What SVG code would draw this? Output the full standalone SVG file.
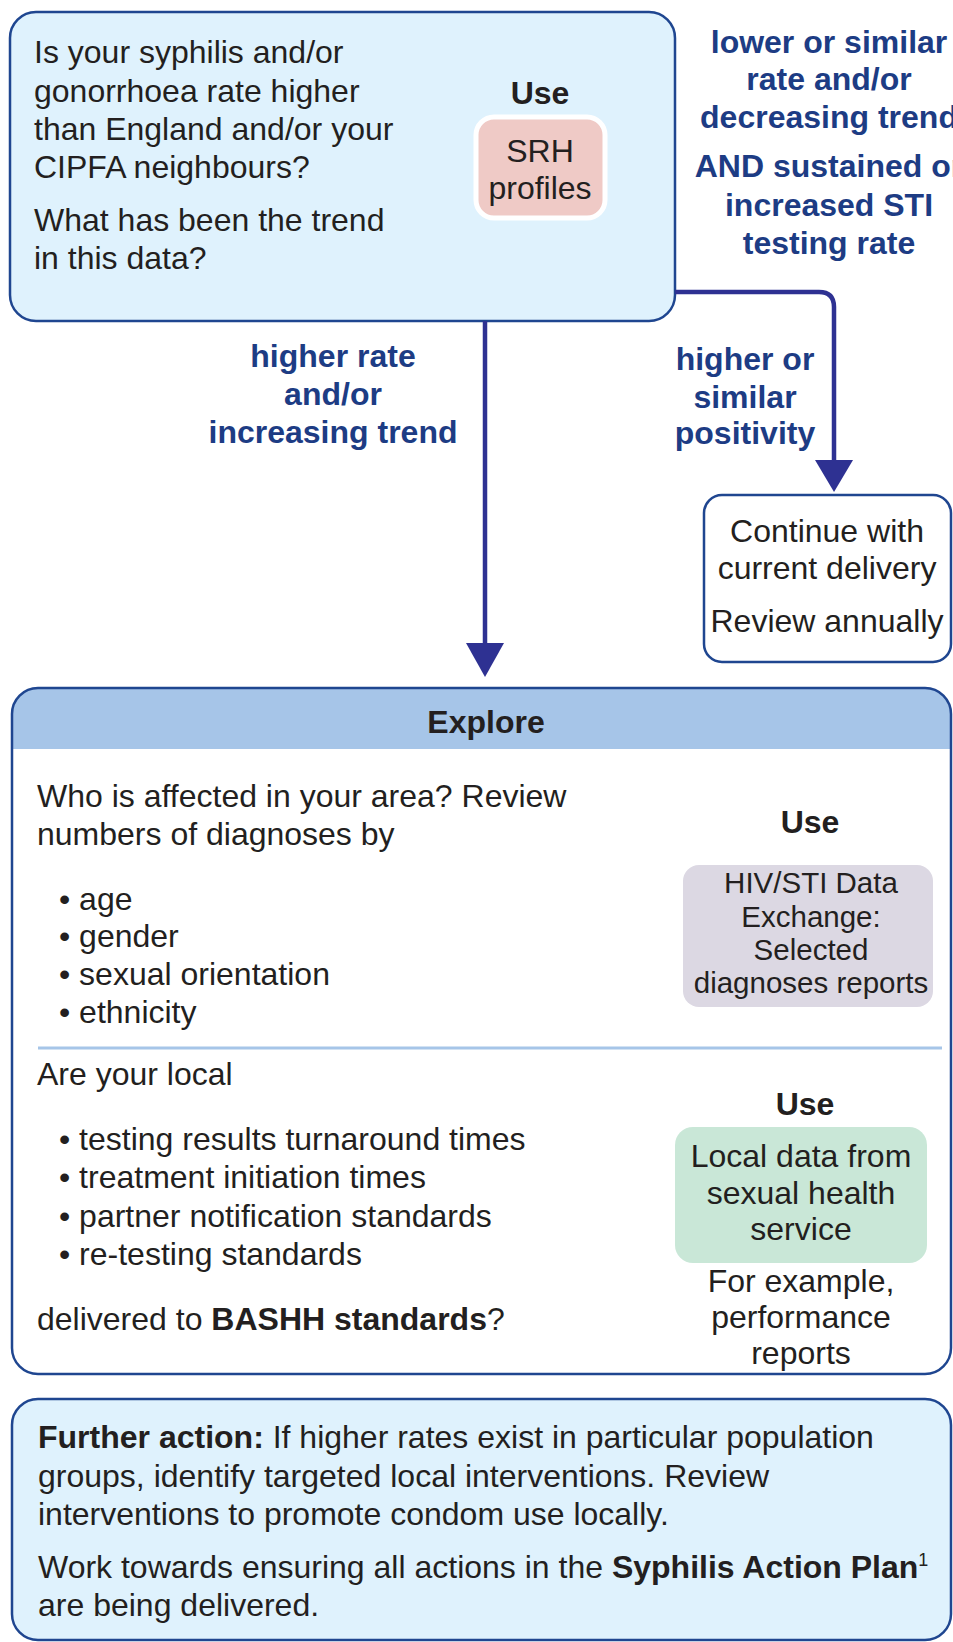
<svg xmlns="http://www.w3.org/2000/svg" width="953" height="1642" viewBox="0 0 953 1642">
<defs>
<style>
text{font-family:"Liberation Sans",Arial,sans-serif;font-size:32px;fill:#231f20}
.b{font-weight:bold}
.lbl{font-weight:bold;fill:#1d3c84;text-anchor:middle}
.c{text-anchor:middle}
.box{stroke:#1f4690;stroke-width:2.5}
.con{fill:none;stroke:#2e3192;stroke-width:4.5}
.ah{fill:#2e3192}
</style>
</defs>
<rect width="953" height="1642" fill="#ffffff"/>

<g id="question">
<rect class="box" x="10" y="12" width="665" height="309" rx="26" fill="#dff2fd"/>
<text x="34" y="63">Is your syphilis and/or</text>
<text x="34" y="101.5">gonorrhoea rate higher</text>
<text x="34" y="140">than England and/or your</text>
<text x="34" y="178">CIPFA neighbours?</text>
<text x="34" y="231">What has been the trend</text>
<text x="34" y="269">in this data?</text>
<text class="b c" x="540" y="104">Use</text>
<rect x="476" y="117" width="129" height="101" rx="18" fill="#efcac6" stroke="#ffffff" stroke-width="5"/>
<text class="c" x="540" y="162">SRH</text>
<text class="c" x="540" y="199">profiles</text>
</g>

<g id="connectors">
<path class="con" d="M675,292 H819 Q834,292 834,307 V462"/>
<polygon class="ah" points="815,460 853,460 834,492"/>
<path class="con" d="M485,321 V645"/>
<polygon class="ah" points="466,643 504,643 485,677"/>
<text class="lbl" x="829" y="53">lower or similar</text>
<text class="lbl" x="829" y="90">rate and/or</text>
<text class="lbl" x="829" y="128">decreasing trend</text>
<text class="lbl" x="829" y="177">AND sustained or</text>
<text class="lbl" x="829" y="216">increased STI</text>
<text class="lbl" x="829" y="254">testing rate</text>
<text class="lbl" x="333" y="367">higher rate</text>
<text class="lbl" x="333" y="405">and/or</text>
<text class="lbl" x="333" y="443">increasing trend</text>
<text class="lbl" x="745" y="370">higher or</text>
<text class="lbl" x="745" y="408">similar</text>
<text class="lbl" x="745" y="444">positivity</text>
</g>

<g id="continue">
<rect class="box" x="704" y="495" width="247" height="167" rx="18" fill="#ffffff"/>
<text class="c" x="827" y="542">Continue with</text>
<text class="c" x="827" y="579">current delivery</text>
<text class="c" x="827" y="632">Review annually</text>
</g>

<g id="explore">
<rect x="12" y="688" width="939" height="686" rx="26" fill="#ffffff"/>
<path d="M12,749 V714 A26,26 0 0 1 38,688 H925 A26,26 0 0 1 951,714 V749 Z" fill="#a6c5e8"/>
<rect class="box" x="12" y="688" width="939" height="686" rx="26" fill="none"/>
<text class="b c" x="486" y="733">Explore</text>
<text x="37" y="807">Who is affected in your area? Review</text>
<text x="37" y="845">numbers of diagnoses by</text>
<text x="59" y="910">• age</text>
<text x="59" y="947">• gender</text>
<text x="59" y="985">• sexual orientation</text>
<text x="59" y="1023">• ethnicity</text>
<text class="b c" x="810" y="833">Use</text>
<rect x="683" y="865" width="250" height="142" rx="16" fill="#dcd8e3"/>
<g style="font-size:29.5px">
<text class="c" x="811" y="893" style="font-size:29.5px">HIV/STI Data</text>
<text class="c" x="811" y="927" style="font-size:29.5px">Exchange:</text>
<text class="c" x="811" y="960" style="font-size:29.5px">Selected</text>
<text class="c" x="811" y="993" style="font-size:29.5px">diagnoses reports</text>
</g>
<line x1="38" y1="1048" x2="942" y2="1048" stroke="#a6c5e8" stroke-width="3"/>
<text x="37" y="1085">Are your local</text>
<text x="59" y="1150">• testing results turnaround times</text>
<text x="59" y="1188">• treatment initiation times</text>
<text x="59" y="1227">• partner notification standards</text>
<text x="59" y="1265">• re-testing standards</text>
<text x="37" y="1330">delivered to <tspan class="b">BASHH standards</tspan>?</text>
<text class="b c" x="805" y="1115">Use</text>
<rect x="675" y="1127" width="252" height="136" rx="18" fill="#c9e7d7"/>
<text class="c" x="801" y="1167">Local data from</text>
<text class="c" x="801" y="1204">sexual health</text>
<text class="c" x="801" y="1240">service</text>
<text class="c" x="801" y="1292">For example,</text>
<text class="c" x="801" y="1328">performance</text>
<text class="c" x="801" y="1364">reports</text>
</g>

<g id="further">
<rect class="box" x="12" y="1399" width="939" height="241" rx="26" fill="#dff2fd"/>
<text x="38" y="1448"><tspan class="b">Further action:</tspan> If higher rates exist in particular population</text>
<text x="38" y="1487">groups, identify targeted local interventions. Review</text>
<text x="38" y="1525">interventions to promote condom use locally.</text>
<text x="38" y="1578">Work towards ensuring all actions in the <tspan class="b">Syphilis Action Plan</tspan><tspan dy="-12" style="font-size:18px">1</tspan></text>
<text x="38" y="1616">are being delivered.</text>
</g>
</svg>
